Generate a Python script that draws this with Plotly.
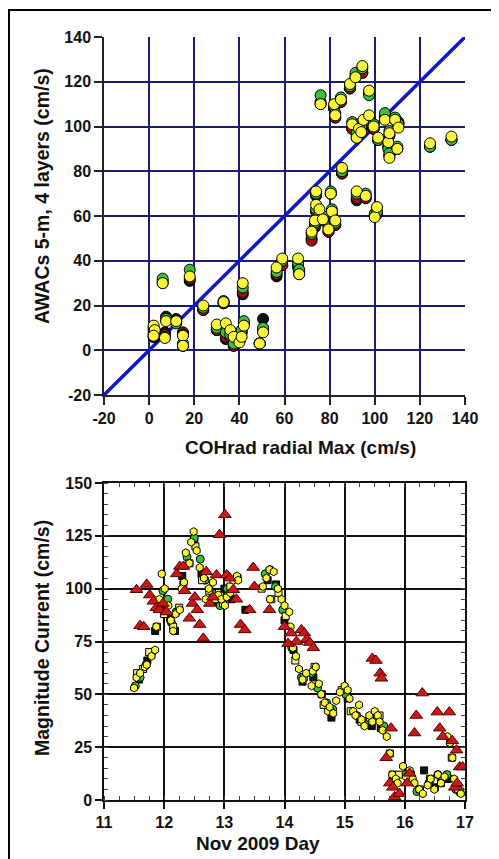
import plotly.graph_objects as go

# ---------------- Top panel: COHrad radial max vs AWACs (4 layers) ----------------
coh_max = [2, 2.5, 2, 6, 7, 7.5, 12, 15, 15, 18, 24, 30, 33, 34, 36, 37.5, 40, 41, 42, 41.5,
           49, 50.5, 56.5, 59, 66, 66.5, 72, 74, 74, 75.5, 73.5, 77, 76, 79.5, 80.5, 81, 82.5,
           82, 82.5, 85, 85.5, 89, 90, 92, 91.5, 94.5, 92, 93, 95, 94, 96, 97.5, 97.5, 99.5,
           100, 101, 101.5, 104.5, 106, 106.5, 106.5, 109, 110.5, 110, 124.5, 134]
awac_black = [8, 6, 6, 30, 8, 15, 14, 7, 2, 31, 18, 9, 21, 5, 6, 2, 4, 8, 12, 25,
              3, 14, 33, 38, 37, 34, 50, 69, 62, 60, 55, 58, 110, 53, 70, 60, 56,
              108, 104, 111, 79, 117, 99, 67, 122, 124, 95, 98, 100, 98, 68, 115, 103, 99,
              60, 61, 94, 104, 91, 87, 96, 103, 101, 90, 91, 94]
awac_red = [9, 7, 6, 31, 7, 14, 13, 8, 2, 32, 18, 9, 21, 6, 6, 2, 4, 8, 12, 26,
            3, 9, 34, 38, 38, 35, 49, 70, 62, 60, 56, 59, 111, 53, 70, 61, 56,
            108, 104, 111, 79, 117, 99, 68, 123, 124, 96, 98, 101, 99, 68, 115, 103, 99,
            60, 61, 94, 105, 91, 87, 96, 103, 102, 90, 91, 94]
awac_green = [10, 8, 7, 32, 6, 14, 12, 7, 3, 36, 19, 10, 22, 8, 7, 3, 4, 9, 13, 28,
              3, 10, 35, 40, 39, 36, 52, 70, 63, 61, 57, 60, 114, 55, 71, 63, 57,
              109, 106, 113, 80, 118, 102, 70, 124, 126, 97, 101, 102, 100, 70, 114, 104, 101,
              61, 62, 94, 106, 90, 88, 98, 104, 101, 91, 91, 94]
awac_yellow = [11, 9, 6.5, 30, 5.5, 13, 13, 6.5, 2, 33, 20, 11.5, 21.5, 12, 9, 6, 3.5, 6, 11, 30,
               3, 8, 37, 41, 41, 34, 53, 71, 65, 63, 58, 58.5, 110, 54, 70, 62, 58,
               110, 105, 112, 81.5, 119, 101, 71, 122, 127, 95, 99, 103, 97.5, 69, 116, 105, 100,
               59.5, 64, 95, 103, 93, 86, 97, 103, 99.5, 90, 92.5, 95.5]
line_1to1 = [-20, 140]
top_ticks = [-20, 0, 20, 40, 60, 80, 100, 120, 140]
top_ticktext = ["-20", "0", "20", "40", "60", "80", "100", "120", "140"]

# ---------------- Bottom panel: time series ----------------
t_yhex = [11.50, 11.54, 11.60, 11.68, 11.71, 11.79, 11.85, 11.87, 11.92, 11.96, 12.01, 12.07,
          12.11, 12.15, 12.19, 12.26, 12.29, 12.33, 12.36, 12.42, 12.45, 12.49, 12.54, 12.59,
          12.66, 12.69, 12.74, 12.81, 12.90, 12.95, 13.01, 13.04, 13.10, 13.15, 13.21, 13.23,
          13.64, 13.70, 13.75, 13.76, 13.82, 13.89, 13.95, 14.00, 14.08, 14.10, 14.14, 14.19,
          14.24, 14.30, 14.36, 14.45, 14.47, 14.52, 14.57, 14.61, 14.67, 14.72, 14.75, 14.81,
          14.86, 14.92, 15.00, 15.05, 15.08, 15.14, 15.18, 15.24, 15.28, 15.33, 15.41, 15.46,
          15.50, 15.55, 15.58, 15.63, 15.70, 15.75, 15.79, 15.85, 15.88, 15.97, 16.02, 16.08,
          16.13, 16.16, 16.24, 16.30, 16.38, 16.43, 16.49, 16.55, 16.60, 16.66, 16.71, 16.75,
          16.79, 16.82, 16.88, 16.93]
v_yhex = [53, 58, 60, 63, 64, 68, 71, 82, 95, 107, 100, 92,
          85, 80, 88, 90, 100, 103, 117, 112, 122, 127, 118, 110,
          105, 95, 100, 103, 97, 95, 92, 96, 98, 104, 106, 104,
          101, 105, 109, 95, 108, 100, 95, 92, 89, 82, 72, 68,
          62, 57, 60, 54, 61, 63, 55, 50, 46, 42, 44, 41,
          47, 51, 54, 52, 48, 42, 40, 45, 38, 35, 40, 37,
          42, 40, 37, 33, 30, 22, 12, 10, 8, 16, 11, 14,
          10, 8, 5, 3, 7, 10, 5, 12, 8, 11, 30, 27,
          20, 10, 5, 3]
t_ysq = [11.55, 11.65, 11.75, 11.88, 12.00, 12.15, 12.25, 12.32, 12.42, 12.52, 12.63, 12.75,
         12.85, 12.98, 13.10, 13.22, 13.62, 13.78, 13.90, 14.02, 14.18, 14.32, 14.50, 14.65,
         14.76, 14.95, 15.10, 15.28, 15.42, 15.58, 15.75, 15.90, 16.05, 16.25, 16.42, 16.60,
         16.78, 16.92]
v_ysq = [60, 62, 70, 82, 88, 82, 91, 102, 112, 120, 104, 99,
         95, 93, 101, 105, 100, 95, 98, 87, 66, 58, 63, 45,
         42, 52, 42, 37, 39, 40, 22, 12, 10, 5, 10, 8,
         20, 4]
t_green = [11.52, 11.60, 11.70, 11.80, 11.92, 11.98, 12.06, 12.12, 12.20, 12.38, 12.50, 12.60,
           12.68, 12.80, 12.93, 13.05, 13.20, 13.68, 13.76, 13.85, 13.97, 14.12, 14.28, 14.45,
           14.55, 14.70, 14.80, 15.02, 15.20, 15.35, 15.50, 15.65, 15.80, 16.00, 16.20, 16.40,
           16.55, 16.70, 16.85]
v_green = [54, 58, 64, 70, 93, 99, 95, 84, 89, 115, 124, 114,
           104, 98, 92, 100, 105, 107, 109, 101, 90, 72, 58, 60,
           53, 46, 43, 50, 40, 37, 38, 35, 10, 12, 4, 8,
           12, 12, 5]
t_black = [11.58, 11.72, 11.85, 11.96, 12.10, 12.18, 12.30, 12.50, 12.62, 12.80, 13.00, 13.12,
           13.35, 13.72, 13.86, 14.00, 14.15, 14.30, 14.48, 14.62, 14.78, 15.05, 15.25, 15.45,
           15.60, 15.80, 16.10, 16.32, 16.50, 16.72, 16.88]
v_black = [57, 66, 80, 92, 86, 80, 106, 122, 107, 94, 100, 95,
           90, 104, 102, 85, 71, 56, 58, 50, 39, 48, 38, 35,
           34, 12, 12, 14, 6, 10, 6]
t_coh = [11.54, 11.60, 11.66, 11.71, 11.76, 11.82, 11.87, 11.92, 11.98, 12.04, 12.21, 12.26,
         12.32, 12.34, 12.42, 12.47, 12.51, 12.55, 12.59, 12.65, 12.70, 12.76, 12.81, 12.87,
         12.92, 13.01, 13.04, 13.09, 13.15, 13.20, 13.27, 13.34, 13.42, 13.48, 13.50, 13.75,
         14.00, 14.06, 14.11, 14.20, 14.28, 14.33, 14.37, 14.42, 14.48, 15.46, 15.52, 15.59,
         15.61, 15.69, 15.75, 15.77, 15.80, 15.83, 15.91, 16.04, 16.08, 16.16, 16.19, 16.29,
         16.54, 16.58, 16.63, 16.74, 16.79, 16.83, 16.86, 16.87, 16.91, 16.96]
v_coh = [99.5, 82.5, 82, 102, 97, 94, 91, 90, 93, 89, 107, 110.5,
         110.5, 99, 86, 93, 96, 90, 83, 76.5, 108, 93, 96, 106.5,
         125.5, 135, 106.5, 105, 99.5, 95, 83, 80.5, 90, 110, 101, 90,
         82, 74, 79, 75, 80.5, 79, 76, 74.5, 72, 67, 66, 60,
         57.6, 20, 8, 34, 6, 1.5, 3, 8, 12.6, 31.7, 40, 50.6,
         41.6, 34, 30, 41.6, 28, 6, 23.6, 8, 15.6, 15.6]
bot_yticks = [0, 25, 50, 75, 100, 125, 150]
bot_xticks = [11, 12, 13, 14, 15, 16, 17]

# page body has an 8 px margin: the figure starts at (8, 8) of the window
OFF = 8
W, H = 499 - OFF, 859 - OFF
def px_x(p):
    return (p - OFF) / W
def px_y(p):
    return 1 - (p - OFF) / H

XDOM = [px_x(104), px_x(465)]
TOP_DOM = [px_y(395), px_y(37)]
BOT_DOM = [px_y(800), px_y(483)]

FONT = "Liberation Sans, Arial, sans-serif"
YEL = "#f8f53a"
GRN = "#3cbd3c"
RED = "#c81818"
DRED = "#a01010"

fig = go.Figure()

# top panel
fig.add_trace(go.Scatter(x=line_1to1, y=line_1to1, mode="lines",
                         line=dict(color="#1414c8", width=3.5), xaxis="x", yaxis="y",
                         showlegend=False, hoverinfo="skip"))
for vals, col in [(awac_black, "#111111"), (awac_red, DRED), (awac_green, GRN), (awac_yellow, YEL)]:
    fig.add_trace(go.Scatter(x=coh_max, y=vals, mode="markers", xaxis="x", yaxis="y",
                             marker=dict(symbol="circle", size=11, color=col,
                                         line=dict(color="#000000", width=1)),
                             showlegend=False))

# bottom panel
fig.add_trace(go.Scatter(x=t_black, y=v_black, mode="markers", xaxis="x2", yaxis="y2",
                         marker=dict(symbol="square", size=7, color="#111111",
                                     line=dict(color="#000000", width=1)), showlegend=False))
fig.add_trace(go.Scatter(x=t_green, y=v_green, mode="markers", xaxis="x2", yaxis="y2",
                         marker=dict(symbol="circle", size=8, color=GRN,
                                     line=dict(color="#000000", width=1)), showlegend=False))
fig.add_trace(go.Scatter(x=t_ysq, y=v_ysq, mode="markers", xaxis="x2", yaxis="y2",
                         marker=dict(symbol="square", size=7, color="#f4f07a",
                                     line=dict(color="#000000", width=1)), showlegend=False))
fig.add_trace(go.Scatter(x=t_yhex, y=v_yhex, mode="markers", xaxis="x2", yaxis="y2",
                         marker=dict(symbol="hexagon", size=8, color="#fbf832",
                                     line=dict(color="#000000", width=1)), showlegend=False))
fig.add_trace(go.Scatter(x=t_coh, y=v_coh, mode="markers", xaxis="x2", yaxis="y2",
                         marker=dict(symbol="triangle-up", size=11, color=RED,
                                     line=dict(color="#5a0000", width=1)), showlegend=False))

tickfont = dict(family=FONT, size=16, color="#111111", weight="bold")
GRIDTOP = "#1c1c70"

fig.update_layout(
    width=W, height=H, margin=dict(l=0, r=0, t=0, b=0, pad=0, autoexpand=False),
    paper_bgcolor="white", plot_bgcolor="white",
    xaxis=dict(domain=XDOM, anchor="y", range=[-20, 140], tickvals=top_ticks,
               ticktext=top_ticktext, automargin=False,
               showgrid=True, gridcolor=GRIDTOP, gridwidth=1.5, zeroline=False,
               showline=True, linecolor="#222222", linewidth=1.5,
               ticks="outside", ticklen=8, tickcolor="#222222", tickwidth=1.5,
               tickfont=tickfont),
    yaxis=dict(domain=TOP_DOM, anchor="x", range=[-20, 140], tickvals=top_ticks,
               ticktext=top_ticktext, automargin=False,
               showgrid=True, gridcolor=GRIDTOP, gridwidth=1.5, zeroline=False,
               showline=True, linecolor="#222222", linewidth=1.5,
               ticks="outside", ticklen=8, tickcolor="#222222", tickwidth=1.5,
               tickfont=tickfont),
    xaxis2=dict(domain=XDOM, anchor="y2", range=[11, 17], tickvals=bot_xticks, automargin=False,
                showgrid=True, gridcolor="#111111", gridwidth=1.5, zeroline=False,
                showline=True, linecolor="#111111", linewidth=1.5,
                ticks="outside", ticklen=7, tickcolor="#111111", tickwidth=1.5,
                minor=dict(ticks="inside", ticklen=4, dtick=0.25, tickcolor="#444444",
                           tickwidth=1, showgrid=False),
                tickfont=tickfont),
    yaxis2=dict(domain=BOT_DOM, anchor="x2", range=[0, 150], tickvals=bot_yticks, automargin=False,
                showgrid=True, gridcolor="#111111", gridwidth=1.5, zeroline=False,
                showline=True, linecolor="#111111", linewidth=1.5,
                ticks="outside", ticklen=7, tickcolor="#111111", tickwidth=1.5,
                minor=dict(ticks="inside", ticklen=4, dtick=5, tickcolor="#444444",
                           tickwidth=1, showgrid=False),
                tickfont=tickfont),
    # mirrored frame with inward minor ticks on top / right of lower panel
    xaxis3=dict(domain=XDOM, anchor="y2", overlaying="x2", side="top", range=[11, 17],
                showgrid=False, zeroline=False, showticklabels=False, automargin=False,
                showline=True, linecolor="#111111", linewidth=1.5,
                ticks="inside", ticklen=4, dtick=0.25, tick0=11, tickcolor="#444444", tickwidth=1),
    yaxis3=dict(domain=BOT_DOM, anchor="x2", overlaying="y2", side="right", range=[0, 150],
                showgrid=False, zeroline=False, showticklabels=False, automargin=False,
                showline=True, linecolor="#111111", linewidth=1.5,
                ticks="inside", ticklen=4, dtick=5, tick0=0, tickcolor="#444444", tickwidth=1),
    shapes=[dict(type="rect", xref="paper", yref="paper",
                 x0=px_x(9), x1=1.2, y0=-0.2, y1=px_y(10),
                 line=dict(color="#000000", width=2), fillcolor="rgba(0,0,0,0)", layer="above")],
)

# invisible traces to activate the overlay axes
fig.add_trace(go.Scatter(x=[11], y=[0], xaxis="x3", yaxis="y2", mode="markers",
                         marker=dict(opacity=0), showlegend=False, hoverinfo="skip"))
fig.add_trace(go.Scatter(x=[11], y=[0], xaxis="x2", yaxis="y3", mode="markers",
                         marker=dict(opacity=0), showlegend=False, hoverinfo="skip"))

xtitlefont = dict(family=FONT, size=19, color="#111111", weight="bold")
ytitlefont = dict(family=FONT, size=19.5, color="#111111", weight="bold")
fig.add_annotation(text="COHrad radial Max (cm/s)", xref="paper", yref="paper",
                   x=px_x(300), y=px_y(447), showarrow=False, font=xtitlefont,
                   xanchor="center", yanchor="middle")
fig.add_annotation(text="AWACs 5-m, 4 layers (cm/s)", xref="paper", yref="paper",
                   x=px_x(42), y=px_y(196), showarrow=False, font=ytitlefont, textangle=-90,
                   xanchor="center", yanchor="middle")
fig.add_annotation(text="Magnitude Current (cm/s)", xref="paper", yref="paper",
                   x=px_x(42), y=px_y(638), showarrow=False, font=ytitlefont, textangle=-90,
                   xanchor="center", yanchor="middle")
fig.add_annotation(text="Nov 2009 Day", xref="paper", yref="paper",
                   x=px_x(258), y=px_y(843), showarrow=False, font=xtitlefont,
                   xanchor="center", yanchor="middle")

fig.write_html("out.html")
